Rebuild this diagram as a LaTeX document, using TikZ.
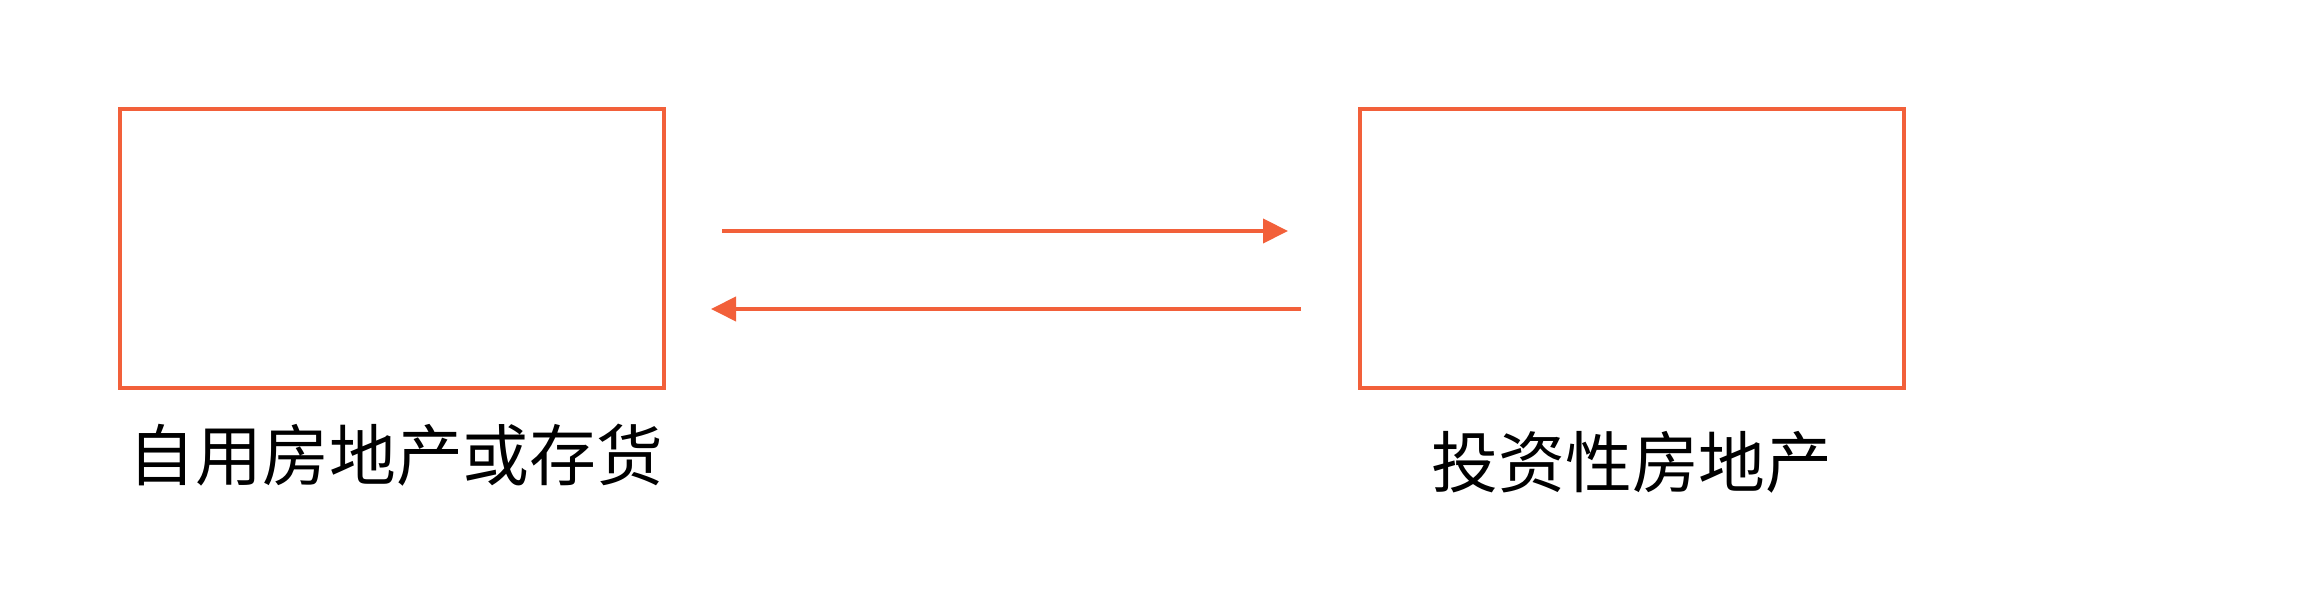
\documentclass[tikz,border=0pt]{standalone}
\usepackage{fontspec}
\newfontfamily\cjk{Noto Sans CJK SC}
\usepackage{xcolor}
\usepackage{tikz}
\usetikzlibrary{arrows.meta}
\definecolor{BordeNaranja}{HTML}{F2603A}

\begin{document}
\begin{tikzpicture}[x=0.01cm, y=-0.01cm,
    caja/.style={draw=BordeNaranja, line width=1.15pt, minimum width=5.44cm, minimum height=2.79cm, inner sep=0pt},
    etiqueta/.style={font=\cjk\fontsize{19}{22}\selectfont, inner sep=0pt},
    flecha/.style={draw=BordeNaranja, line width=1.15pt, -{Triangle[length=0.25cm, width=0.24cm]}}]
  % margins
  \useasboundingbox (0,0) rectangle (2304,601);

  % boxes
  \node[caja] (propio) at (392,248.5) {};
  \node[caja] (inversion) at (1632,248.5) {};

  % labels
  \node[etiqueta] (propiolbl) at (396,455) {自用房地产或存货};
  \node[etiqueta] (inversionlbl) at (1632,462) {投资性房地产};

  % arrows
  \coordinate (idaA) at (722,231);
  \coordinate (idaB) at (1288,231);
  \coordinate (vueltaA) at (1301,309);
  \coordinate (vueltaB) at (711,309);
  \draw[flecha] (idaA) -- (idaB);
  \draw[flecha] (vueltaA) -- (vueltaB);
\end{tikzpicture}
\end{document}
